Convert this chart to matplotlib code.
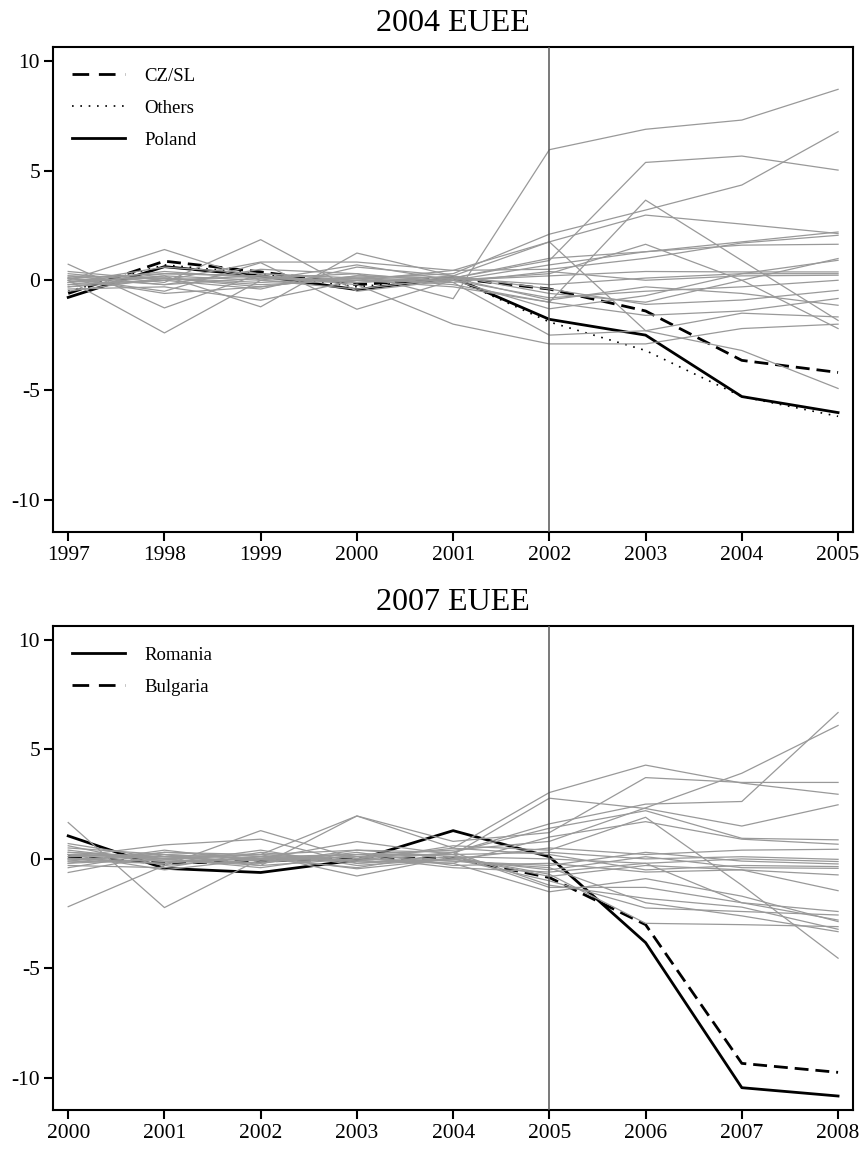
import matplotlib
matplotlib.use("Agg")
import matplotlib.pyplot as plt
from matplotlib.lines import Line2D

plt.rcParams['font.family'] = ['Liberation Serif', 'DejaVu Serif']
plt.rcParams['axes.unicode_minus'] = False

# ---- 2004 enlargement (1997-2005) ----
years_2004 = [1997, 1998, 1999, 2000, 2001, 2002, 2003, 2004, 2005]
poland = [-0.78, 0.62, 0.2, -0.43, 0.12, -1.78, -2.5, -5.3, -6.03]
czsl = [-0.6, 0.87, 0.38, -0.2, 0.1, -0.4, -1.4, -3.65, -4.2]
others_2004 = [-0.5, 0.7, 0.3, -0.3, 0.1, -1.9, -3.2, -5.3, -6.2]
donors_2004 = [
    [0.1, -0.2, 0.1, 0.3, -0.84, 5.95, 6.88, 7.3, 8.7],
    [-0.3, 0.2, 0.0, 0.1, 0.3, 2.1, 3.2, 4.34, 6.77],
    [0.2, 0.1, -0.3, 0.2, 0.1, 0.9, 5.37, 5.66, 5.02],
    [0.73, -1.26, 0.3, 0.1, -0.2, -1.0, 3.65, 0.9, -1.83],
    [-0.2, 0.3, 0.2, -0.1, 0.2, 1.75, 2.97, 2.56, 2.13],
    [0.0, -2.4, 0.0, 0.7, 0.0, 0.3, 1.64, 0.0, -2.2],
    [-0.1, 0.4, 0.1, 0.0, 0.45, 1.75, -2.3, -3.2, -4.93],
    [0.1, 0.3, 0.2, -0.2, -2.0, -2.9, -2.9, -2.2, -2.0],
    [-0.4, -0.3, -0.91, 0.0, -0.1, -2.5, -2.3, -1.5, -1.67],
    [0.0, 1.4, 0.0, -0.4, 0.1, 1.0, 1.3, 1.75, 2.2],
    [-0.2, 0.0, 0.83, 0.83, 0.45, 0.5, 1.0, 1.7, 2.05],
    [0.3, -0.1, 1.85, -0.5, 0.0, 0.7, 1.3, 1.6, 1.64],
    [-0.1, 0.2, -1.21, 1.24, 0.2, -0.6, -1.0, 0.0, 0.99],
    [0.1, -0.5, 0.8, -1.32, 0.0, -1.3, -0.7, 0.3, 0.91],
    [0.0, 0.1, -0.1, 0.1, 0.0, 0.2, 0.4, 0.38, 0.38],
    [-0.3, 0.0, 0.2, -0.1, 0.1, -0.2, 0.1, 0.3, 0.3],
    [0.2, -0.2, 0.5, 0.3, -0.1, 0.4, 0.0, 0.2, 0.23],
    [-0.5, 0.1, -0.2, 0.0, 0.0, -0.8, -0.5, -0.3, 0.0],
    [0.4, 0.0, -0.4, 0.6, 0.2, -0.4, -1.1, -0.9, -0.46],
    [-0.1, 0.6, 0.3, 0.0, -0.3, -1.0, -1.6, -1.4, -0.83],
    [0.1, -0.6, -0.3, 0.2, 0.1, -0.9, -0.3, -0.6, -1.14],
]

# ---- 2007 enlargement (2000-2008) ----
years_2007 = [2000, 2001, 2002, 2003, 2004, 2005, 2006, 2007, 2008]
romania = [1.05, -0.43, -0.62, -0.05, 1.29, 0.1, -3.82, -10.44, -10.82]
bulgaria = [0.1, -0.2, -0.1, 0.0, 0.05, -0.85, -3.0, -9.33, -9.74]
donors_2007 = [
    [0.3, 0.1, 0.2, 0.4, 0.3, 1.6, 2.5, 2.62, 6.68],
    [0.0, -0.2, 0.1, 0.2, 0.4, 0.8, 2.33, 3.91, 6.09],
    [0.2, 0.0, -0.3, 1.96, 0.5, 3.03, 4.28, 3.46, 2.95],
    [-0.1, 0.3, 0.2, 1.96, 0.8, 1.2, 3.71, 3.49, 3.49],
    [0.5, 0.2, 0.0, 0.79, 0.2, 2.77, 2.3, 1.5, 2.47],
    [1.66, -2.22, 0.0, -0.1, 0.3, 1.4, 2.2, 0.94, 0.87],
    [-2.18, -0.3, 1.29, 0.0, -0.2, 1.0, 1.7, 0.9, 0.67],
    [0.1, 0.64, 0.9, -0.2, 0.0, 0.5, 0.2, 0.4, 0.44],
    [0.0, 0.1, -0.1, 0.1, 0.2, 0.3, 0.0, 0.1, -0.02],
    [-0.2, 0.0, 0.2, -0.78, 0.1, 0.0, -0.2, 0.0, -0.12],
    [0.4, -0.1, 0.0, 0.2, -0.1, -0.3, 0.3, -0.1, -0.23],
    [-0.62, 0.2, -0.3, 0.0, 0.49, 0.2, -0.5, -0.3, -0.35],
    [0.6, -0.3, 0.1, -0.45, 0.0, -0.5, 0.1, -0.4, -0.43],
    [0.2, 0.1, -0.2, 0.3, -0.3, -0.2, -0.6, -0.5, -0.73],
    [-0.3, -0.4, 0.3, -0.2, 0.1, -0.8, -0.3, -0.5, -1.45],
    [0.1, 0.2, 0.0, 0.1, -0.4, -0.6, -0.2, -2.0, -2.4],
    [-0.1, -0.2, 0.4, -0.3, 0.0, -1.0, -2.24, -2.4, -2.56],
    [0.3, 0.0, -0.4, 0.2, 0.2, -1.3, -1.3, -2.0, -2.79],
    [-0.4, 0.3, 0.1, -0.1, -0.2, -1.5, -0.9, -1.7, -2.86],
    [0.0, -0.1, -0.2, 0.4, 0.1, -0.7, -2.94, -3.0, -3.09],
    [0.2, -0.5, 0.0, -0.4, 0.3, -1.2, -1.8, -2.2, -3.21],
    [-0.2, 0.4, -0.1, 0.0, -0.1, -0.4, -2.0, -2.6, -3.32],
    [0.7, 0.0, 0.2, -0.1, 0.6, 0.4, 1.9, -1.2, -4.53],
]

yticks = [-10, -5, 0, 5, 10]
grey = '#999999'
dash_plot = (0, (5, 2.5))
dash_leg = (0, (6, 3.5))
dot_style = (0, (1, 4))


def setup_axes(ax, years, treat_year, title):
    for s in ax.spines.values():
        s.set_linewidth(1.5)
    ax.axvline(treat_year, color='#555555', lw=1.1, zorder=5)
    ax.set_xlim(years[0] - 0.155, years[-1] + 0.155)
    ax.set_ylim(-11.46, 10.64)
    ax.set_xticks(years)
    ax.set_yticks(yticks)
    ax.tick_params(direction='out', length=6.5, width=1.5, labelsize=15.5)
    ax.tick_params(axis='y', pad=3)
    ax.tick_params(axis='x', pad=3.5)
    ax.set_title(title, fontsize=23, pad=11)


fig = plt.figure(figsize=(8.65, 11.49), dpi=100)
ax1 = fig.add_axes([0.0616, 0.5372, 0.9245, 0.4221])
ax2 = fig.add_axes([0.0616, 0.0339, 0.9245, 0.4215])

# top panel
ax1.plot(years_2004, others_2004, color='black', lw=1.2, ls=dot_style, zorder=2)
ax1.plot(years_2004, czsl, color='black', lw=2.0, ls=dash_plot, zorder=2)
ax1.plot(years_2004, poland, color='black', lw=2.0, zorder=2)
for d in donors_2004:
    ax1.plot(years_2004, d, color=grey, lw=0.9, zorder=3)
setup_axes(ax1, years_2004, 2002, '2004 EUEE')
h1 = [Line2D([], [], color='black', lw=2.0, ls=dash_leg),
      Line2D([], [], color='black', lw=1.2, ls=dot_style),
      Line2D([], [], color='black', lw=2.0)]
ax1.legend(h1, ['CZ/SL', 'Others', 'Poland'], loc='upper left',
           bbox_to_anchor=(0.0234, 0.957), frameon=False, fontsize=13.5,
           handlelength=2.85, handletextpad=1.0, labelspacing=0.8,
           borderpad=0, borderaxespad=0)

# bottom panel
ax2.plot(years_2007, bulgaria, color='black', lw=2.0, ls=dash_plot, zorder=2)
ax2.plot(years_2007, romania, color='black', lw=2.0, zorder=2)
for d in donors_2007:
    ax2.plot(years_2007, d, color=grey, lw=0.9, zorder=3)
setup_axes(ax2, years_2007, 2005, '2007 EUEE')
h2 = [Line2D([], [], color='black', lw=2.0),
      Line2D([], [], color='black', lw=2.0, ls=dash_leg)]
ax2.legend(h2, ['Romania', 'Bulgaria'], loc='upper left',
           bbox_to_anchor=(0.0234, 0.957), frameon=False, fontsize=13.5,
           handlelength=2.85, handletextpad=1.0, labelspacing=0.8,
           borderpad=0, borderaxespad=0)

fig.savefig('out.png', dpi=100)
